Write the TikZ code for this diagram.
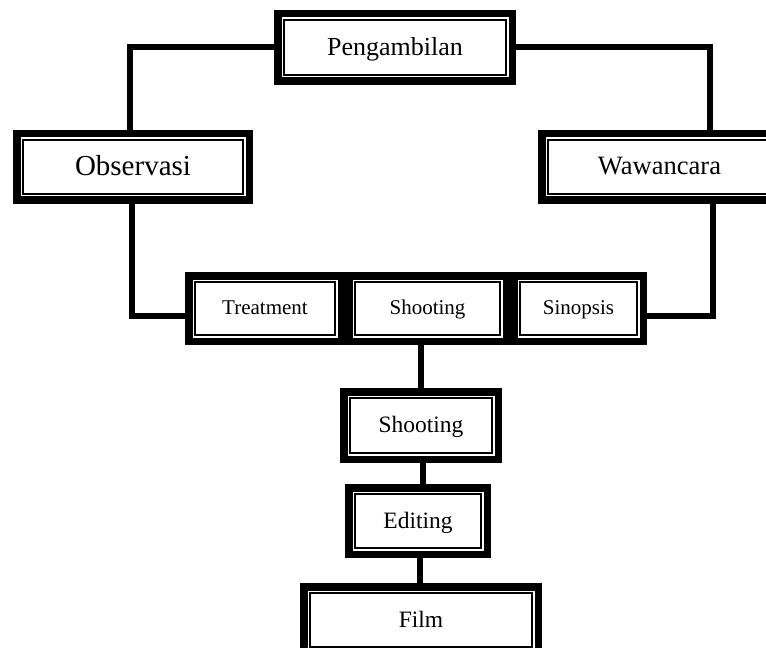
\documentclass[tikz,border=0pt]{standalone}
\usepackage{fontspec}
\setmainfont{Liberation Serif}
\usetikzlibrary{backgrounds}
\newcommand{\lbltxt}[1]{\raisebox{0pt}[0.6em][0pt]{#1}}
\tikzset{
  frame/.style={draw=black, line width=1pt, fill=white, inner sep=0pt, align=center,
    preaction={draw=black, line width=15pt},
    preaction={draw=white, line width=3.75pt}},
  link/.style={draw=black, line width=4.5pt, line cap=rect}
}
\begin{document}
\begin{tikzpicture}[x=0.75pt,y=-0.75pt]
\useasboundingbox (0,0) rectangle (766,648);
\clip (0,0) rectangle (766,648);
\node[frame, minimum width=166.5pt, minimum height=41.25pt, font=\fontsize{19.5}{22}\selectfont] (P) at (395,47.5) {\lbltxt{Pengambilan}};
\node[frame, minimum width=165pt, minimum height=40.5pt, font=\fontsize{21.75}{24}\selectfont] (O) at (133,167) {\lbltxt{Observasi}};
\node[frame, minimum width=167.25pt, minimum height=40.5pt, font=\fontsize{19.9}{22}\selectfont] (W) at (659.5,167) {\lbltxt{Wawancara}};
\node[frame, minimum width=105pt, minimum height=39.75pt, font=\fontsize{15.75}{18}\selectfont] (T) at (265,308.5) {\lbltxt{Treatment}};
\node[frame, minimum width=108.75pt, minimum height=39.75pt, font=\fontsize{15.75}{18}\selectfont] (S1) at (427.5,308.5) {\lbltxt{Shooting}};
\node[frame, minimum width=87.75pt, minimum height=39.75pt, font=\fontsize{15.75}{18}\selectfont] (Sn) at (578.5,308.5) {\lbltxt{Sinopsis}};
\node[frame, minimum width=106.5pt, minimum height=41.25pt, font=\fontsize{17.6}{20}\selectfont] (S2) at (421,425.5) {\lbltxt{Shooting}};
\node[frame, minimum width=94.5pt, minimum height=40.5pt, font=\fontsize{17.6}{20}\selectfont] (E) at (418,521) {\lbltxt{Editing}};
\node[frame, minimum width=166.5pt, minimum height=40.5pt, font=\fontsize{17.6}{20}\selectfont] (F) at (421,620) {\lbltxt{Film}};
\begin{pgfonlayer}{background}
\fill[white] (0,0) rectangle (766,648);
\draw[link] (P.west) -| ([xshift=-1.9pt]O.north);
\draw[link] (P.east) -| ([xshift=37.9pt]W.north);
\draw[link] ([xshift=-1.1pt]O.south) |- ([yshift=-5.25pt]T.west);
\draw[link] ([xshift=40.1pt]W.south) |- ([yshift=-5.25pt]Sn.east);
\draw[link] (S1.south -| S2.north) -- (S2.north);
\draw[link] ([xshift=1.5pt]S2.south) -- ([xshift=1.5pt]S2.south |- E.north);
\draw[link] ([xshift=1.5pt]E.south) -- ([xshift=1.5pt]E.south |- F.north);
\end{pgfonlayer}
\end{tikzpicture}
\end{document}
